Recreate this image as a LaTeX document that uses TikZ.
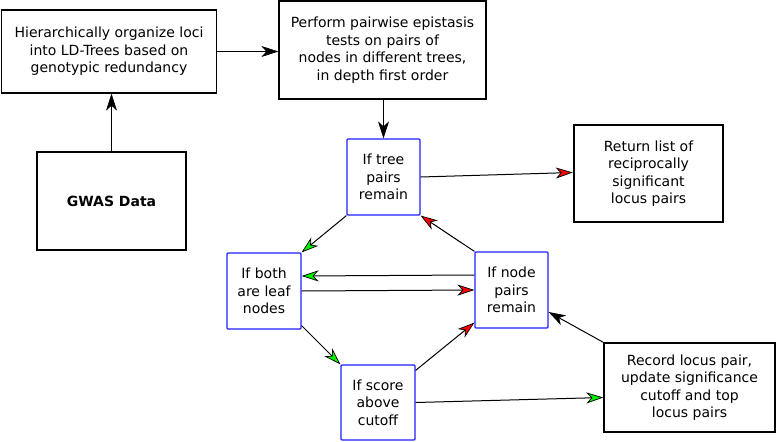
\documentclass[tikz,border=0pt]{standalone}
\usepackage{fontspec}
\setmainfont{DejaVu Sans}
\usetikzlibrary{arrows.meta}
\definecolor{boxblue}{RGB}{30,30,255}
\definecolor{tipgreen}{RGB}{0,240,0}
\definecolor{tipred}{RGB}{250,0,0}
\begin{document}
\begin{tikzpicture}[x=1pt,y=-1pt,
  every node/.style={font=\fontsize{14}{17.5}\selectfont, align=center, inner sep=0pt},
  plainbox/.style={draw=black, line width=1.3pt},
  thickbox/.style={draw=black, line width=2.5pt},
  bluebox/.style={draw=boxblue, line width=1.2pt, rounded corners=1pt},
  conn/.style={draw=black, line width=1pt},
  tipblack/.style={-{Stealth[length=17pt,width=11pt,inset=5pt,fill=black,line width=0.7pt]}},
  tipg/.style={-{Stealth[length=17pt,width=11pt,inset=5pt,fill=tipgreen,line width=0.7pt]}},
  tipr/.style={-{Stealth[length=17pt,width=11pt,inset=5pt,fill=tipred,line width=0.7pt]}}
]
\useasboundingbox (0,0) rectangle (777,442);
% boxes
\node[plainbox, minimum width=215pt, minimum height=83pt] (h) at (109,51.5)
  {Hierarchically organize loci\\into LD-Trees based on\\genotypic redundancy};
\node[plainbox, minimum width=207pt, minimum height=98pt] (p) at (382.5,50)
  {Perform pairwise epistasis\\tests on pairs of\\nodes in different trees,\\in depth first order};
\node[thickbox, minimum width=149pt, minimum height=98pt] (g) at (111.5,201)
  {\bfseries GWAS Data};
\node[bluebox, minimum width=73pt, minimum height=76pt] (t) at (383.5,177)
  {If tree\\pairs\\remain};
\node[thickbox, minimum width=149pt, minimum height=97pt] (r) at (648.5,173.5)
  {Return list of\\reciprocally\\significant\\locus pairs};
\node[bluebox, minimum width=74pt, minimum height=76pt] (l) at (264,291)
  {If both\\are leaf\\nodes};
\node[bluebox, minimum width=73pt, minimum height=76pt] (n) at (511.5,290)
  {If node\\pairs\\remain};
\node[bluebox, minimum width=74pt, minimum height=75pt] (s) at (378,402.5)
  {If score\\above\\cutoff};
\node[plainbox, minimum width=171pt, minimum height=89pt] (rec) at (689.5,387.5)
  {Record locus pair,\\update significance\\cutoff and top\\locus pairs};
% connectors
\draw[conn,tipblack] (h.east) -- (h.east -| p.west);
\draw[conn,tipblack] (g.north) -- (g.north |- h.south);
\draw[conn,tipblack] (t.north |- p.south) -- (t.north);
\draw[conn,tipr] (t.east) -- ([yshift=1pt]r.west);
\draw[conn,tipr] (n.north west) -- (t.south east);
\draw[conn,tipg] (t.south west) -- (l.north east);
\draw[conn,tipg] ([yshift=15pt]n.west) -- ([yshift=15pt]l.east);
\draw[conn,tipr] (l.east) -- (n.west);
\draw[conn,tipg] ([yshift=4pt]l.south east) -- (s.north west);
\draw[conn,tipr] ([yshift=-6pt]s.north east) -- ([yshift=6pt]n.south west);
\draw[conn,tipg] (s.east) -- ([yshift=-10pt]rec.west);
\draw[conn,tipblack] (rec.north west) -- ([yshift=-22pt]n.east);
\end{tikzpicture}
\end{document}
